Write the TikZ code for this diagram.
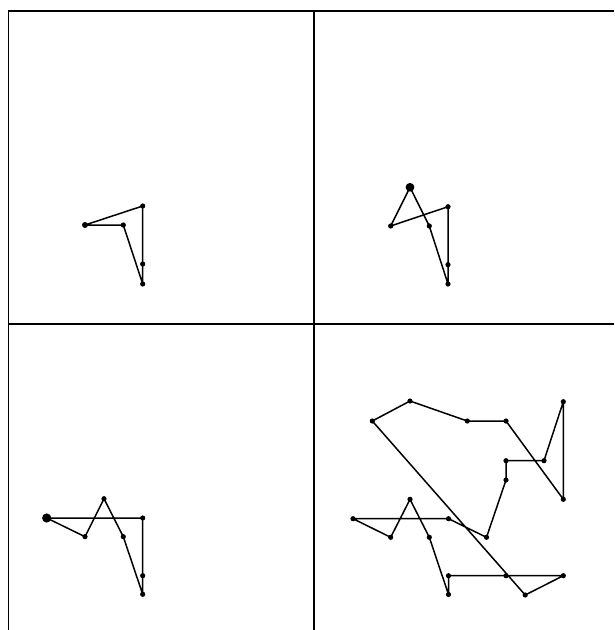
\documentclass[tikz,border=0pt]{standalone}
\begin{document}
\begin{tikzpicture}[x=1pt,y=-1pt,
  frame/.style={line width=1.7pt},
  tour/.style={line width=1.5pt, line join=round, line cap=round},
  dot/.style={fill=black},
]
\useasboundingbox (0,0) rectangle (614,630);
% frame
\coordinate (tl) at (8.5,11);
\coordinate (tr) at (614,11);
\coordinate (bl) at (8.5,630);
\coordinate (mt) at (314,11);
\coordinate (mb) at (314,630);
\coordinate (ml) at (8.5,324);
\coordinate (mr) at (614,324);
\draw[frame] (bl) -- (tl) -- (tr);
\draw[frame] (mt) -- (mb);
\draw[frame] (ml) -- (mr);

% panel 1
\coordinate (a1) at (142.7,206);
\coordinate (b1) at (85,225);
\coordinate (c1) at (123.3,225);
\coordinate (d1) at (142.7,284);
\coordinate (e1) at (142.7,264);
\draw[tour] (b1) -- (a1) -- (e1) -- (d1) -- (c1) -- cycle;
\foreach \p in {a1,c1,d1,e1} \fill[dot] (\p) circle (2.6);
\fill[dot] (b1) circle (3);

% panel 2
\coordinate (p2) at (410,187.3);
\coordinate (q2) at (390.7,226);
\coordinate (r2) at (448,206.7);
\coordinate (s2) at (429.3,226);
\coordinate (t2) at (448,284);
\coordinate (u2) at (448,264.7);
\draw[tour] (q2) -- (r2) -- (u2) -- (t2) -- (s2) -- (p2) -- cycle;
\foreach \p in {q2,r2,s2,t2,u2} \fill[dot] (\p) circle (2.6);
\fill[dot] (p2) circle (4.4);

% panel 3
\coordinate (n3) at (46.7,518);
\coordinate (b3) at (85,536.7);
\coordinate (p3) at (104,498.7);
\coordinate (s3) at (123.3,536.7);
\coordinate (a3) at (142.7,518);
\coordinate (e3) at (142.7,575.7);
\coordinate (d3) at (142.7,594.3);
\draw[tour] (n3) -- (b3) -- (p3) -- (s3) -- (d3) -- (e3) -- (a3) -- cycle;
\foreach \p in {b3,p3,s3,a3,e3,d3} \fill[dot] (\p) circle (2.6);
\fill[dot] (n3) circle (4.6);

% panel 4
\coordinate (k1) at (372.3,421);
\coordinate (k2) at (410,401);
\coordinate (k3) at (467.3,421);
\coordinate (k4) at (506,421);
\coordinate (k5) at (544,460.7);
\coordinate (k6) at (563.3,401.7);
\coordinate (k7) at (563.3,499.3);
\coordinate (k8) at (506,460.7);
\coordinate (k9) at (506,480);
\coordinate (k10) at (486.5,537.3);
\coordinate (k11) at (448.5,518.7);
\coordinate (k12) at (353,518.7);
\coordinate (k13) at (390.7,537.3);
\coordinate (k14) at (410,499.3);
\coordinate (k15) at (429.3,537.3);
\coordinate (k16) at (448.5,594.5);
\coordinate (k17) at (448.5,575.7);
\coordinate (k18) at (506,575.7);
\coordinate (k19) at (563.3,575.7);
\coordinate (k20) at (525.2,595);
\draw[tour] (k1) -- (k2) -- (k3) -- (k4) -- (k7) -- (k6) -- (k5) -- (k8) -- (k9)
  -- (k10) -- (k11) -- (k12) -- (k13) -- (k14) -- (k15) -- (k16) -- (k17)
  -- (k18) -- (k19) -- (k20) -- cycle;
\foreach \p in {k1,k2,k3,k4,k5,k6,k7,k8,k9,k10,k11,k12,k13,k14,k15,k16,k17,k18,k19,k20}
  \fill[dot] (\p) circle (2.6);
\end{tikzpicture}
\end{document}
